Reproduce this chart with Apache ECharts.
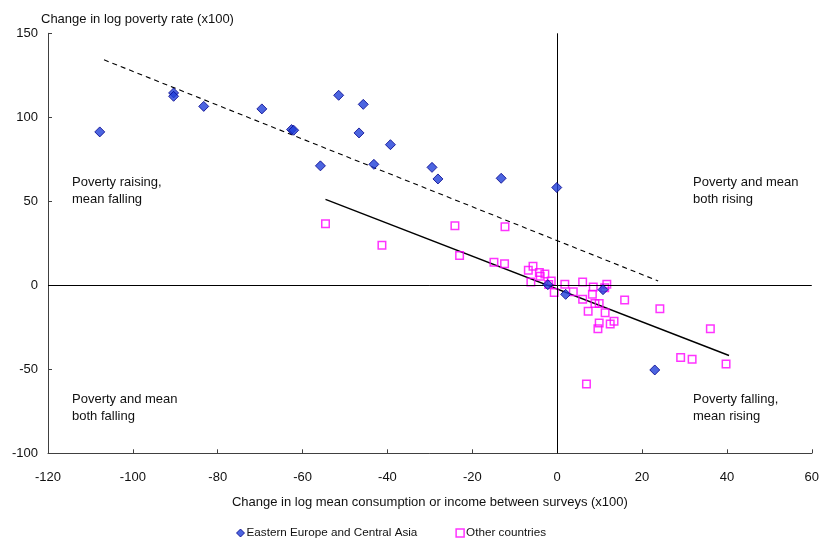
<!DOCTYPE html>
<html>
<head>
<meta charset="utf-8">
<script src="https://cdn.jsdelivr.net/npm/echarts@6/dist/echarts.min.js"></script>
<style>
html,body{margin:0;padding:0;background:#fff;}
#chart{width:822px;height:538px;}
</style>
</head>
<body>
<div id="chart"></div>
<script>
// Eastern Europe and Central Asia: [change in log mean, change in log poverty]
var eecaPoints = [
  [-107.8, 91.3], [-90.4, 114.5], [-90.4, 112.5], [-83.3, 106.5], [-69.6, 105.0],
  [-62.6, 92.7], [-62.1, 92.3], [-51.5, 113.1], [-45.7, 107.7], [-46.7, 90.7],
  [-55.8, 71.1], [-43.2, 72.0], [-39.3, 83.7], [-29.5, 70.2], [-28.1, 63.3],
  [-13.2, 63.7], [-0.1, 58.2], [2.0, -5.4], [10.8, -2.6], [23.0, -50.4], [-2.2, 0.4]
];
// Other countries
var otherPoints = [
  [-54.6, 36.7], [-41.3, 23.8], [-24.1, 35.5], [-12.3, 34.9], [-23.0, 17.7],
  [-14.9, 13.7], [-12.4, 12.9], [-6.8, 8.9], [-5.7, 11.3], [-4.2, 7.6],
  [-2.9, 6.8], [-4.0, 5.4], [-6.2, 2.0], [-1.4, 2.6], [-2.0, 0.5], [-0.7, -4.3],
  [1.8, 0.6], [3.8, -3.9], [6.0, 2.0], [8.5, -1.0], [8.3, -5.4], [6.0, -8.3],
  [8.9, -10.9], [9.9, -10.9], [11.7, 0.6], [11.2, -1.4], [7.3, -15.5], [11.3, -16.4],
  [15.9, -8.7], [24.2, -14.0], [9.9, -22.4], [9.6, -25.8], [12.5, -23.0], [13.4, -21.4],
  [36.1, -25.8], [29.1, -43.0], [31.8, -44.0], [39.8, -46.8], [6.9, -58.7]
];
// Fitted lines (endpoints)
var eecaFit = [[-106.8, 134.2], [23.8, 2.6]];
var otherFit = [[-54.6, 51.2], [40.5, -41.8]];

var seriesNames = ['Eastern Europe and Central Asia', 'Other countries'];
var xAxisTitle = 'Change in log mean consumption or income between surveys (x100)';
var yAxisTitle = 'Change in log poverty rate (x100)';
var quadrantLabels = [
  'Poverty raising,\nmean falling',
  'Poverty and mean\nboth rising',
  'Poverty and mean\nboth falling',
  'Poverty falling,\nmean rising'
];

var FONT = '"Liberation Sans", Arial, sans-serif';
var chart = echarts.init(document.getElementById('chart'));

var qStyle = function (text) {
  return { text: text, font: '13px ' + FONT, fill: '#111', lineHeight: 17 };
};

chart.setOption({
  animation: false,
  backgroundColor: '#fff',
  textStyle: { fontFamily: FONT },
  grid: { left: 48, right: 9, top: 33.3, bottom: 84.7, containLabel: false },
  xAxis: {
    type: 'value', min: -120, max: 60, interval: 20,
    name: xAxisTitle, nameLocation: 'middle', nameGap: 43,
    nameTextStyle: { fontSize: 13, color: '#111', fontFamily: FONT },
    axisLine: { onZero: false, lineStyle: { color: '#404040', width: 1 } },
    axisTick: { inside: true, length: 4, lineStyle: { color: '#404040' } },
    axisLabel: { fontSize: 13, color: '#111', margin: 18, fontFamily: FONT },
    splitLine: { show: false }
  },
  yAxis: {
    type: 'value', min: -100, max: 150, interval: 50,
    axisLine: { show: true, onZero: false, lineStyle: { color: '#404040', width: 1 } },
    axisTick: { show: true, inside: true, length: 4, lineStyle: { color: '#404040' } },
    axisLabel: { fontSize: 13, color: '#111', margin: 10, fontFamily: FONT },
    splitLine: { show: false }
  },
  legend: {
    data: [
      { name: seriesNames[0], icon: 'diamond', itemStyle: { color: '#1f3fd8', borderColor: '#00008b', borderWidth: 1 } },
      { name: seriesNames[1], icon: 'rect', itemStyle: { color: '#fff', borderColor: '#ff00ff', borderWidth: 1.5 } }
    ],
    left: 236, top: 527, padding: 0,
    itemWidth: 8, itemHeight: 8, itemGap: 38,
    textStyle: { fontSize: 11.7, color: '#111', fontFamily: FONT, padding: [0, 0, 0, -3] },
    selectedMode: false
  },
  graphic: [
    { type: 'text', left: 41, top: 13, style: { text: yAxisTitle, font: '13px ' + FONT, fill: '#111' } },
    { type: 'text', left: 72, top: 174, style: qStyle(quadrantLabels[0]) },
    { type: 'text', left: 693, top: 174, style: qStyle(quadrantLabels[1]) },
    { type: 'text', left: 72, top: 391, style: qStyle(quadrantLabels[2]) },
    { type: 'text', left: 693, top: 391, style: qStyle(quadrantLabels[3]) }
  ],
  series: [
    {
      type: 'line', name: 'zero', data: [], silent: true, symbol: 'none',
      markLine: {
        silent: true, symbol: 'none', label: { show: false },
        lineStyle: { color: '#000', width: 1, type: 'solid' },
        data: [{ xAxis: 0 }, { yAxis: 0 }]
      }
    },
    {
      type: 'line', name: 'eecaFit', data: eecaFit, symbol: 'none', silent: true,
      lineStyle: { color: '#000', width: 1.1, type: [5, 4] }, z: 3
    },
    {
      type: 'line', name: 'otherFit', data: otherFit, symbol: 'none', silent: true,
      lineStyle: { color: '#000', width: 1.4, type: 'solid' }, z: 3
    },
    {
      type: 'scatter', name: seriesNames[1], data: otherPoints,
      symbol: 'rect', symbolSize: 7.5,
      itemStyle: { color: 'rgba(255,255,255,0)', borderColor: '#ff00ff', borderWidth: 1.5 }, z: 4
    },
    {
      type: 'scatter', name: seriesNames[0], data: eecaPoints,
      symbol: 'diamond', symbolSize: 10,
      itemStyle: { color: '#1f3fd8', borderColor: '#00008b', borderWidth: 1 }, z: 5
    }
  ]
});
</script>
</body>
</html>
